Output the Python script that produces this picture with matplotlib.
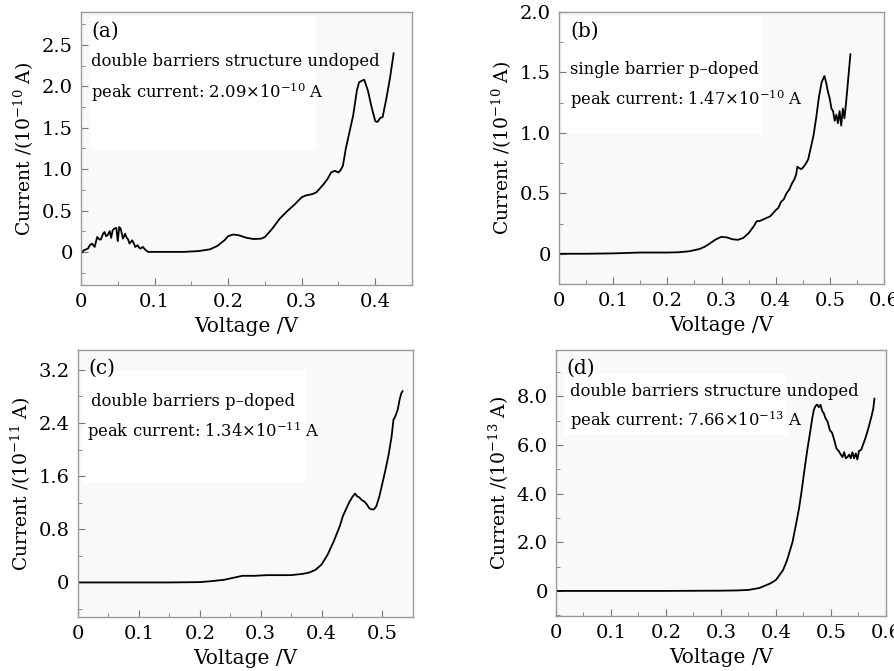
import matplotlib
matplotlib.use('Agg')
import matplotlib.pyplot as plt
from matplotlib.ticker import MultipleLocator
from matplotlib.patches import Rectangle

plt.rcParams['font.family'] = 'DejaVu Serif'
plt.rcParams['mathtext.fontset'] = 'dejavuserif'

# (a) double barriers structure undoped
va = [0.0, 0.004, 0.0095, 0.012, 0.015, 0.0186, 0.022, 0.025, 0.027, 0.030, 0.032, 0.034, 0.036, 0.039,
      0.041, 0.043, 0.045, 0.048, 0.050, 0.052, 0.054, 0.057, 0.060, 0.0615, 0.064, 0.066, 0.0696, 0.072,
      0.0737, 0.077, 0.079, 0.081, 0.084, 0.087, 0.091, 0.10, 0.12, 0.14, 0.16, 0.175, 0.185, 0.195, 0.20,
      0.207, 0.215, 0.225, 0.235, 0.245, 0.25, 0.26, 0.27, 0.28, 0.29, 0.30, 0.305, 0.31, 0.315, 0.32,
      0.325, 0.33, 0.335, 0.34, 0.345, 0.35, 0.353, 0.356, 0.36, 0.365, 0.37, 0.375, 0.378, 0.382, 0.385,
      0.39, 0.395, 0.40, 0.403, 0.407, 0.41, 0.415, 0.42, 0.425]
ia = [-0.02, 0.02, 0.04, 0.08, 0.10, 0.06, 0.18, 0.15, 0.15, 0.22, 0.24, 0.19, 0.20, 0.25, 0.17, 0.26,
      0.28, 0.29, 0.13, 0.30, 0.28, 0.16, 0.22, 0.18, 0.15, 0.10, 0.14, 0.10, 0.06, 0.08, 0.05, 0.04, 0.06,
      0.03, 0.0, 0.0, 0.0, 0.0, 0.01, 0.03, 0.07, 0.14, 0.19, 0.21, 0.20, 0.17, 0.155, 0.16, 0.18, 0.28,
      0.40, 0.49, 0.57, 0.66, 0.68, 0.69, 0.70, 0.72, 0.77, 0.82, 0.88, 0.96, 0.98, 0.96, 0.99, 1.04, 1.25,
      1.45, 1.65, 1.95, 2.05, 2.07, 2.08, 1.95, 1.75, 1.58, 1.57, 1.62, 1.63, 1.85, 2.1, 2.4]

# (b) single barrier p-doped
vb = [0, 0.05, 0.10, 0.15, 0.20, 0.22, 0.24, 0.26, 0.27, 0.28, 0.29, 0.30, 0.31, 0.32, 0.33, 0.34, 0.35,
      0.36, 0.365, 0.37, 0.38, 0.39, 0.40, 0.405, 0.41, 0.415, 0.42, 0.425, 0.43, 0.435, 0.438, 0.44, 0.443,
      0.447, 0.45, 0.455, 0.46, 0.465, 0.47, 0.475, 0.48, 0.485, 0.488, 0.49, 0.493, 0.496, 0.50, 0.503,
      0.506, 0.509, 0.512, 0.515, 0.518, 0.521, 0.524, 0.527, 0.53, 0.534, 0.538]
ib = [0, 0, 0.003, 0.01, 0.01, 0.012, 0.02, 0.04, 0.06, 0.09, 0.12, 0.14, 0.135, 0.12, 0.115, 0.13, 0.17,
      0.23, 0.27, 0.27, 0.29, 0.31, 0.36, 0.38, 0.43, 0.45, 0.50, 0.53, 0.58, 0.62, 0.66, 0.72, 0.71, 0.70,
      0.71, 0.74, 0.78, 0.88, 0.98, 1.13, 1.30, 1.42, 1.45, 1.47, 1.42, 1.35, 1.28, 1.20, 1.18, 1.10, 1.15,
      1.08, 1.18, 1.06, 1.20, 1.12, 1.25, 1.45, 1.65]

# (c) double barriers p-doped
vc = [0, 0.05, 0.10, 0.15, 0.20, 0.22, 0.24, 0.26, 0.27, 0.29, 0.31, 0.33, 0.35, 0.37, 0.38, 0.39, 0.40,
      0.41, 0.42, 0.43, 0.435, 0.44, 0.445, 0.45, 0.455, 0.458, 0.462, 0.466, 0.47, 0.474, 0.478, 0.482,
      0.486, 0.49, 0.495, 0.50, 0.505, 0.51, 0.515, 0.518, 0.521, 0.525, 0.528, 0.531, 0.533]
ic = [0, 0, 0, 0, 0.005, 0.02, 0.04, 0.08, 0.10, 0.10, 0.11, 0.11, 0.11, 0.13, 0.15, 0.19, 0.27, 0.42,
      0.62, 0.85, 1.0, 1.1, 1.2, 1.28, 1.34, 1.30, 1.28, 1.24, 1.22, 1.18, 1.12, 1.10, 1.10, 1.15, 1.30,
      1.50, 1.70, 1.92, 2.2, 2.45, 2.5, 2.6, 2.75, 2.85, 2.88]

# (d) double barriers structure undoped
vd = [0, 0.1, 0.2, 0.3, 0.33, 0.35, 0.37, 0.39, 0.40, 0.413, 0.42, 0.43, 0.437, 0.442, 0.446, 0.452,
      0.457, 0.462, 0.466, 0.469, 0.472, 0.475, 0.478, 0.481, 0.484, 0.487, 0.49, 0.494, 0.498, 0.502,
      0.506, 0.51, 0.514, 0.518, 0.521, 0.524, 0.527, 0.53, 0.533, 0.536, 0.539, 0.542, 0.545, 0.548,
      0.551, 0.555, 0.559, 0.563, 0.567, 0.571, 0.574, 0.577, 0.579]
idd = [0, 0, 0, 0.01, 0.02, 0.04, 0.12, 0.31, 0.45, 0.86, 1.25, 2.0, 2.8, 3.4, 4.0, 5.0, 5.8, 6.5, 7.1,
       7.45, 7.6, 7.66, 7.55, 7.65, 7.4, 7.3, 7.1, 6.95, 6.6, 6.5, 6.2, 5.85, 5.75, 5.6, 5.5, 5.7, 5.45,
       5.5, 5.6, 5.45, 5.7, 5.45, 5.65, 5.4, 5.75, 5.8, 6.05, 6.3, 6.6, 6.94, 7.2, 7.5, 7.9]

xt_a = [0, 0.1, 0.2, 0.3, 0.4]
xt_bd = [0, 0.1, 0.2, 0.3, 0.4, 0.5, 0.6]
xt_c = [0, 0.1, 0.2, 0.3, 0.4, 0.5]
yt_a = [0, 0.5, 1.0, 1.5, 2.0, 2.5]
yt_b = [0, 0.5, 1.0, 1.5, 2.0]
yt_c = [0, 0.8, 1.6, 2.4, 3.2]
yt_d = [0, 2.0, 4.0, 6.0, 8.0]


def fmt(v, nd):
    return '0' if v == 0 else f'{v:.{nd}f}'


def panel(rect, v, i, xlim, ylim, xt, yt, xminor, yminor, exp, tag, line1, line2, pos, white):
    ax = fig.add_axes(rect)
    ax.set_facecolor('#f9f9f9')
    ax.add_patch(Rectangle((white[0], white[1]), white[2], white[3], transform=ax.transAxes,
                           facecolor='white', edgecolor='none', zorder=0))
    ax.plot(v, i, color='black', lw=1.3, zorder=2)
    ax.set_xlim(*xlim)
    ax.set_ylim(*ylim)
    ax.set_xticks(xt)
    ax.set_xticklabels([fmt(x, 1) for x in xt])
    ax.set_yticks(yt)
    ax.set_yticklabels([fmt(y, 1) for y in yt])
    ax.xaxis.set_minor_locator(MultipleLocator(xminor))
    ax.yaxis.set_minor_locator(MultipleLocator(yminor))
    ax.tick_params(which='both', direction='in', top=False, right=False, color='#777777',
                   labelsize=14, pad=6)
    ax.tick_params(which='major', length=5)
    ax.tick_params(which='minor', length=3)
    for s in ax.spines.values():
        s.set_color('#9a9a9a')
        s.set_linewidth(1.0)
    ax.set_xlabel('Voltage /V', fontsize=14.5)
    ax.set_ylabel('Current /(10$^{' + exp + '}$ A)', fontsize=13.5)
    ax.text(pos[0], pos[1], tag, transform=ax.transAxes, fontsize=14.5, va='center', ha='left')
    ax.text(pos[2], pos[3], line1, transform=ax.transAxes, fontsize=11.8, va='center', ha='left')
    ax.text(pos[4], pos[5], line2, transform=ax.transAxes, fontsize=11.8, va='center', ha='left')
    return ax


fig = plt.figure(figsize=(8.94, 6.71), dpi=100)

panel([0.0906, 0.5753, 0.3703, 0.4069], va, ia, (0, 0.45), (-0.4, 2.9), xt_a, yt_a, 0.05, 0.25,
      '-10', '(a)', 'double barriers structure undoped', r'peak current: 2.09$\times$10$^{-10}$ A',
      (0.03, 0.93, 0.03, 0.817, 0.03, 0.707), (0.03, 0.495, 0.68, 0.49))
panel([0.6253, 0.5768, 0.3635, 0.4054], vb, ib, (0, 0.6), (-0.25, 2.0), xt_bd, yt_b, 0.05, 0.25,
      '-10', '(b)', 'single barrier p\u2013doped', r'peak current: 1.47$\times$10$^{-10}$ A',
      (0.034, 0.93, 0.034, 0.787, 0.034, 0.68), (0.01, 0.555, 0.615, 0.43))
panel([0.0872, 0.0805, 0.3747, 0.3979], vc, ic, (0, 0.55), (-0.52, 3.5), xt_c, yt_c, 0.05, 0.4,
      '-11', '(c)', 'double barriers p\u2013doped', r'peak current: 1.34$\times$10$^{-11}$ A',
      (0.03, 0.933, 0.038, 0.806, 0.028, 0.694), (0.015, 0.5, 0.665, 0.42))
panel([0.6219, 0.0820, 0.3691, 0.3964], vd, idd, (0, 0.6), (-1.03, 9.9), xt_bd, yt_d, 0.05, 1.0,
      '-13', '(d)', 'double barriers structure undoped', r'peak current: 7.66$\times$10$^{-13}$ A',
      (0.033, 0.932, 0.043, 0.843, 0.043, 0.737), (0.025, 0.68, 0.675, 0.23))

fig.savefig('out.png', dpi=100, facecolor='white')
